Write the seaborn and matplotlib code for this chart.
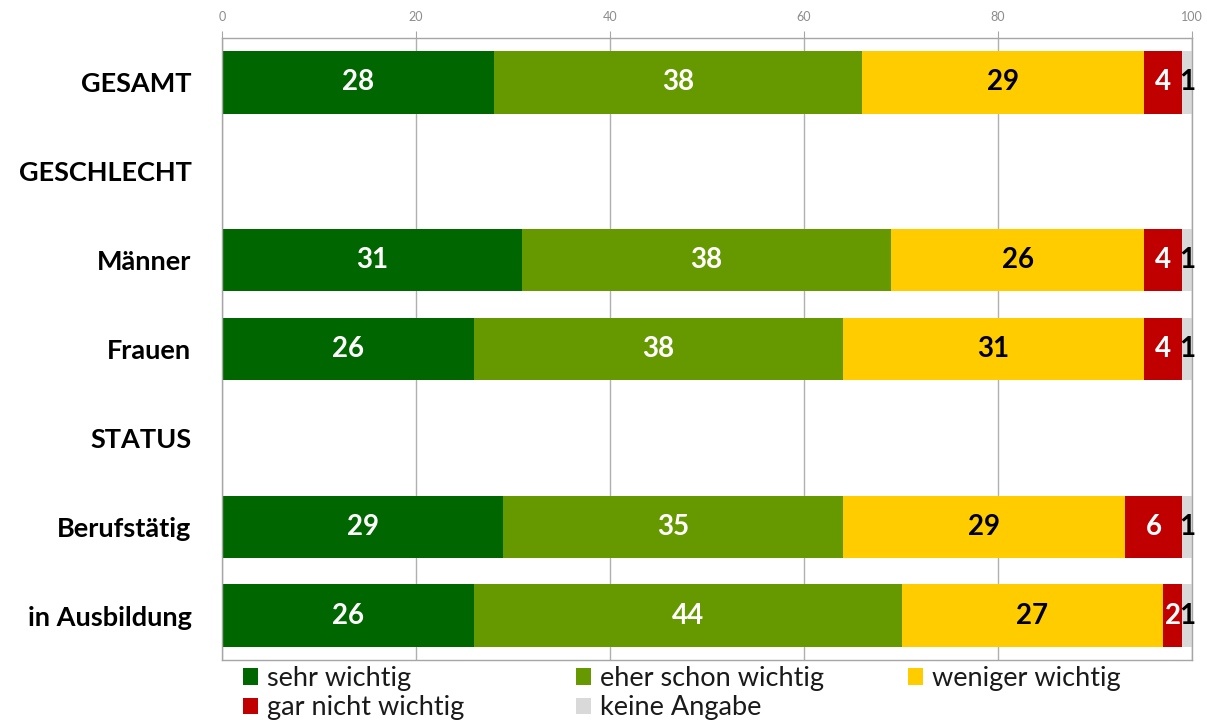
import matplotlib

matplotlib.use("Agg")
import matplotlib.pyplot as plt
import pandas as pd
import seaborn as sns
from matplotlib.patches import Patch

# row order of the chart; the two group headers have no bar
rows = ["GESAMT", "GESCHLECHT", "Männer", "Frauen", "STATUS", "Berufstätig", "in Ausbildung"]
groups = ["GESAMT", "Männer", "Frauen", "Berufstätig", "in Ausbildung"]

answers = ["sehr wichtig", "eher schon wichtig", "weniger wichtig", "gar nicht wichtig", "keine Angabe"]
sehr_wichtig = [28.0, 30.9, 26.0, 29.0, 26.0]
eher_schon = [38.0, 38.1, 38.0, 35.0, 44.1]
weniger = [29.1, 26.1, 31.1, 29.1, 26.9]
gar_nicht = [3.9, 3.9, 3.9, 5.9, 2.0]
keine_angabe = [1.0, 1.0, 1.0, 1.0, 1.0]

colors = ["#006600", "#669900", "#FFCC00", "#C00000", "#D9D9D9"]
text_colors = ["white", "white", "black", "white", "black"]

sns.set_style("white")
plt.rcParams["font.family"] = ["Lato", "DejaVu Sans"]

df = pd.DataFrame(
    {
        "group": groups,
        answers[0]: sehr_wichtig,
        answers[1]: eher_schon,
        answers[2]: weniger,
        answers[3]: gar_nicht,
        answers[4]: keine_angabe,
    }
)
cum = df[answers].cumsum(axis=1)
cum["group"] = df["group"]

fig = plt.figure(figsize=(12.07, 7.2), dpi=100)
ax = fig.add_axes([0.1839, 0.0833, 0.8037, 0.8639])

# stacked bars: draw the running totals from the longest to the shortest
for ans, col in reversed(list(zip(answers, colors))):
    sns.barplot(
        data=cum, x=ans, y="group", order=rows, color=col, width=0.7,
        errorbar=None, linewidth=0, saturation=1, ax=ax, orient="h",
    )

for ans, tcol in zip(answers, text_colors):
    for i, g in enumerate(groups):
        v = df.loc[i, ans]
        center = cum.loc[i, ans] - v / 2
        ax.text(center, rows.index(g), f"{v:.0f}", ha="center", va="center",
                color=tcol, fontsize=20, fontweight="bold")

ax.set_xlim(0, 100)
ax.set_ylim(6.5, -0.5)
ax.set_xlabel("")
ax.set_ylabel("")

ax.xaxis.tick_top()
ax.set_xticks(range(0, 101, 20))
ax.tick_params(axis="x", length=5, color="#A6A6A6", labelcolor="#8C8C8C", labelsize=9, pad=6)
ax.xaxis.grid(True, color="#B0B0B0", linewidth=1)
ax.set_axisbelow(True)

ax.set_yticks(range(len(rows)))
ax.set_yticklabels(rows, fontsize=19.5, fontweight="bold")
ax.set_yticks([i - 0.5 for i in range(len(rows) + 1)], minor=True)
ax.tick_params(axis="y", which="major", length=0, pad=22, labelcolor="black")
ax.tick_params(axis="y", which="minor", length=9, color="#A6A6A6")

for side in ["top", "bottom", "left", "right"]:
    ax.spines[side].set_visible(True)
    ax.spines[side].set_color("#A6A6A6")
    ax.spines[side].set_linewidth(1)

# legend in three columns, each column its own legend so the columns line up
handles = [Patch(facecolor=c, edgecolor="none") for c in colors]
columns = [[0, 3], [1, 4], [2]]
col_x = [0.201, 0.477, 0.752]
for idx, x in zip(columns, col_x):
    leg = fig.legend(
        [handles[i] for i in idx], [answers[i] for i in idx],
        loc="upper left", bbox_to_anchor=(x, 0.075), frameon=False,
        fontsize=19.5, handlelength=0.55, handleheight=0.55, handletextpad=0.35,
        labelspacing=0.16, borderpad=0, borderaxespad=0,
    )
    for t in leg.get_texts():
        t.set_color("#1A1A1A")

fig.savefig("out.png", dpi=100)
